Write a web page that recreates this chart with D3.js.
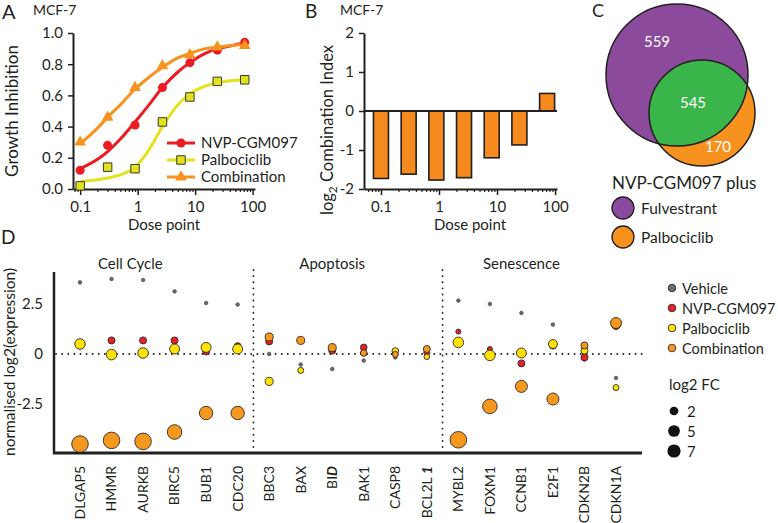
<!DOCTYPE html>
<html><head><meta charset="utf-8">
<script src="https://cdn.jsdelivr.net/npm/d3@7"></script>
<style>
body{margin:0;background:#fff}
svg{display:block}
text{font-family:Lato,"Open Sans",sans-serif;fill:#231f20}
</style>
</head><body>
<svg id="c" width="778" height="523"></svg>
<script>
// ---------------- DATA ----------------
const doses = [0.1, 0.3, 0.9, 2.7, 8.1, 24.3, 72.9];
const nvpGI   = [0.12, 0.28, 0.41, 0.65, 0.81, 0.89, 0.94];
const palboGI = [0.02, 0.14, 0.13, 0.43, 0.59, 0.69, 0.70];
const comboGI = [0.30, 0.46, 0.65, 0.79, 0.86, 0.91, 0.92];
const fitDoses = [0.1, 0.2, 0.3, 0.5, 0.9, 1.5, 2.7, 5, 8.1, 15, 24.3, 45, 72.9];
const nvpFit   = [0.13, 0.19, 0.24, 0.32, 0.43, 0.53, 0.65, 0.75, 0.81, 0.87, 0.90, 0.92, 0.94];
const palboFit = [0.05, 0.06, 0.07, 0.09, 0.14, 0.24, 0.40, 0.54, 0.61, 0.66, 0.68, 0.695, 0.70];
const comboFit = [0.29, 0.39, 0.46, 0.54, 0.64, 0.71, 0.78, 0.84, 0.87, 0.90, 0.91, 0.92, 0.93];
const giTicks = [0, 0.2, 0.4, 0.6, 0.8, 1.0];
const doseTicks = [0.1, 1, 10, 100];
const seriesNames = ["NVP-CGM097", "Palbociclib", "Combination"];

const logCI = [-1.73, -1.62, -1.77, -1.71, -1.20, -0.87, 0.45];
const ciTicks = [-2, -1, 0, 1, 2];

const vennSets = ["Fulvestrant", "Palbociclib"];
const vennCounts = [559, 545, 170]; // fulvestrant only, both, palbociclib only

const genes = ["DLGAP5","HMMR","AURKB","BIRC5","BUB1","CDC20",
               "BBC3","BAX","BID","BAK1","CASP8","BCL2L1",
               "MYBL2","FOXM1","CCNB1","E2F1","CDKN2B","CDKN1A"];
const groups = ["Cell Cycle", "Apoptosis", "Senescence"];
const conditions = ["Vehicle", "NVP-CGM097", "Palbociclib", "Combination"];
const vehicleExpr = [3.58, 3.75, 3.70, 3.13, 2.55, 2.47, 0.00, -0.53, -0.75, -0.33, -0.17, 0.10, 2.67, 2.50, 2.05, 1.47, -0.28, -1.20];
const nvpExpr     = [0.50, 0.68, 0.68, 0.68, 0.13, 0.40, 0.63, 0.68, 0.17, 0.33, 0.10, 0.08, 1.12, 0.25, -0.47, 0.42, -0.17, 1.45];
const palboExpr   = [0.50, -0.03, 0.05, 0.25, 0.33, 0.25, -1.37, -0.82, 0.30, 0.05, 0.15, -0.14, 0.58, -0.07, 0.05, 0.50, 0.17, -1.68];
const comboExpr   = [-4.50, -4.32, -4.37, -3.90, -2.95, -2.95, 0.85, 0.68, 0.32, 0.05, -0.02, 0.25, -4.29, -2.62, -1.62, -2.25, 0.43, 1.55];
const vehicleFC = [0,0,0,0,0,0,0,0,0,0,0,0,0,0,0,0,0,0];
const nvpFC     = [0.7, 0.9, 0.9, 0.9, 0.9, 0.7, 0.9, 0.45, 0.9, 0.7, 0.15, 0.45, 0.15, 0.15, 0.9, 0.9, 0.9, 2.2];
const palboFC   = [3.7, 3.7, 3.7, 3.1, 3.1, 3.1, 1.5, 0.45, 0.9, 0.45, 0.7, 0.3, 3.7, 3.7, 3.1, 2.2, 0.9, 0.45];
const comboFC   = [12.8, 12.8, 12.8, 9.2, 7.3, 7.3, 1.5, 1.5, 1.5, 0.7, 0.45, 0.9, 12.8, 9.2, 5.4, 5.4, 0.9, 4.2];
const exprTicks = [-2.5, 0, 2.5];
const fcLegend = [2, 5, 7];

// ---------------- STYLE ----------------
const INK = "#231f20";
const cRed = "#ec1c24", cYel = "#e3e21f", cOra = "#f7921e";
const dCols = ["#6d6e71", "#e8202a", "#ffe200", "#f7981e"];
const svg = d3.select("#c");

function txt(g, x, y, s, size, anchor) {
  return g.append("text").attr("x", x).attr("y", y).attr("font-size", size)
    .attr("text-anchor", anchor || "start").text(s);
}
function styleAxis(sel, w) {
  sel.select(".domain").attr("stroke", INK).attr("stroke-width", w || 2);
  sel.selectAll(".tick line").attr("stroke", INK).attr("stroke-width", 1.5);
  sel.selectAll(".tick text").attr("fill", INK).attr("font-size", 15)
     .attr("font-family", 'Lato,"Open Sans",sans-serif');
}
function logAxis(g, x, yPos) {
  const [lo, hi] = x.domain();
  const minors = [];
  [0.01, 0.1, 1, 10].forEach(dec => { for (let k = 2; k < 10; k++) { const v = +(dec * k).toPrecision(3); if (v >= lo && v <= hi) minors.push(v); } });
  g.append("g").attr("transform", `translate(0,${yPos})`)
    .call(d3.axisBottom(x).tickValues(minors).tickSize(3).tickFormat(""))
    .call(s => { s.select(".domain").remove(); s.selectAll(".tick line").attr("stroke", INK).attr("stroke-width", 1.2); });
  g.append("g").attr("transform", `translate(0,${yPos})`)
    .call(d3.axisBottom(x).tickValues(doseTicks).tickSize(6).tickSizeOuter(0).tickPadding(6).tickFormat(d3.format("~g")))
    .call(s => styleAxis(s));
}

// ---------------- PANEL A ----------------
const gA = svg.append("g");
const xA = d3.scaleLog().domain([0.075, 110]).range([73, 255]);
const yA = d3.scaleLinear().domain([0, 1]).range([189, 33]);
txt(gA, 2, 19, "A", 20);
txt(gA, 33, 15, "MCF-7", 14);
gA.append("g").attr("transform", "translate(73,0)")
  .call(d3.axisLeft(yA).tickValues(giTicks).tickSize(5).tickSizeOuter(0).tickPadding(5).tickFormat(d3.format(".1f")))
  .call(s => styleAxis(s));
logAxis(gA, xA, 189);
txt(gA, 164, 230, "Dose point", 15, "middle");
gA.append("text").attr("transform", "translate(18,111) rotate(-90)").attr("font-size", 17)
  .attr("text-anchor", "middle").text("Growth Inhibition");

const lineA = d3.line().x((d, i) => xA(fitDoses[i])).y(d => yA(d)).curve(d3.curveMonotoneX);
const seriesA = [
  {fit: nvpFit, pts: nvpGI, col: cRed, sym: d3.symbolCircle, size: 64, stroke: "none"},
  {fit: palboFit, pts: palboGI, col: cYel, sym: d3.symbolSquare, size: 72, stroke: "#3a3a2a"},
  {fit: comboFit, pts: comboGI, col: cOra, sym: d3.symbolTriangle, size: 60, stroke: "none"}
];
seriesA.forEach(s => {
  gA.append("path").attr("d", lineA(s.fit)).attr("fill", "none").attr("stroke", s.col).attr("stroke-width", 3);
});
seriesA.forEach(s => {
  gA.selectAll(null).data(s.pts).join("path")
    .attr("transform", (d, i) => `translate(${xA(doses[i])},${yA(d)})`)
    .attr("d", d3.symbol(s.sym, s.size)())
    .attr("fill", s.col).attr("stroke", s.stroke).attr("stroke-width", 1);
});
// legend A
seriesA.forEach((s, i) => {
  const y = 143 + i * 17;
  gA.append("line").attr("x1", 167).attr("x2", 195).attr("y1", y).attr("y2", y).attr("stroke", s.col).attr("stroke-width", 3);
  gA.append("path").attr("transform", `translate(181,${y})`).attr("d", d3.symbol(s.sym, s.size)())
    .attr("fill", s.col).attr("stroke", s.stroke).attr("stroke-width", 1);
  txt(gA, 201, y + 5, seriesNames[i], 15);
});

// ---------------- PANEL B ----------------
const gB = svg.append("g");
const xB = d3.scaleLog().domain([0.051, 108]).range([364, 557]);
const yB = d3.scaleLinear().domain([-2, 2]).range([189, 33]);
txt(gB, 305, 18, "B", 19);
txt(gB, 340, 15, "MCF-7", 14);
gB.selectAll("rect").data(logCI).join("rect")
  .attr("x", (d, i) => xB(doses[i]) - 7.5).attr("width", 15)
  .attr("y", d => yB(Math.max(0, d))).attr("height", d => Math.abs(yB(d) - yB(0)))
  .attr("fill", "#f58a1f").attr("stroke", INK).attr("stroke-width", 1.6);
gB.append("line").attr("x1", 364).attr("x2", 557).attr("y1", yB(0)).attr("y2", yB(0)).attr("stroke", INK).attr("stroke-width", 2);
gB.append("g").attr("transform", "translate(364,0)")
  .call(d3.axisLeft(yB).tickValues(ciTicks).tickSize(5).tickSizeOuter(0).tickPadding(5).tickFormat(d => String(d)))
  .call(s => styleAxis(s));
logAxis(gB, xB, 189);
txt(gB, 470, 230, "Dose point", 15, "middle");
const tB = gB.append("text").attr("transform", "translate(333,130) rotate(-90)").attr("font-size", 16.5).attr("text-anchor", "middle");
tB.append("tspan").text("log");
tB.append("tspan").attr("font-size", 12).attr("dy", 4).text("2");
tB.append("tspan").attr("dy", -4).text(" Combination Index");

// ---------------- PANEL C ----------------
const gC = svg.append("g");
txt(gC, 592, 17, "C", 18);
const cF = {x: 677, y: 75, r: 71}, cP = {x: 702, y: 113, r: 53};
const defs = svg.append("defs");
defs.append("clipPath").attr("id", "clipF").append("circle").attr("cx", cF.x).attr("cy", cF.y).attr("r", cF.r);
gC.append("circle").attr("cx", cF.x).attr("cy", cF.y).attr("r", cF.r).attr("fill", "#8b4a9c");
gC.append("circle").attr("cx", cP.x).attr("cy", cP.y).attr("r", cP.r).attr("fill", "#f7921e");
gC.append("circle").attr("cx", cP.x).attr("cy", cP.y).attr("r", cP.r).attr("fill", "#39b54a").attr("clip-path", "url(#clipF)");
[cF, cP].forEach(c => gC.append("circle").attr("cx", c.x).attr("cy", c.y).attr("r", c.r).attr("fill", "none").attr("stroke", INK).attr("stroke-width", 1.5));
const vennPos = [[657, 47], [693, 108], [718, 152]];
vennCounts.forEach((v, i) => txt(gC, vennPos[i][0], vennPos[i][1], String(v), 15, "middle").style("fill", "#fff"));
txt(gC, 612, 189, "NVP-CGM097 plus", 17);
const vennCols = ["#8b4a9c", "#f7921e"];
vennSets.forEach((s, i) => {
  const y = 208 + i * 29;
  gC.append("circle").attr("cx", 623).attr("cy", y).attr("r", 11).attr("fill", vennCols[i]).attr("stroke", INK).attr("stroke-width", 1.3);
  txt(gC, 641, y + 6, s, 15.5);
});

// ---------------- PANEL D ----------------
const gD = svg.append("g");
txt(gD, 1, 244, "D", 19);
const xD = d3.scalePoint().domain(genes).range([80, 616]);
const yD = d3.scaleLinear().domain([-4.95, 4.1]).range([453, 272]);
const rD = d3.scaleSqrt().domain([0, 7]).range([1.8, 6.6]);
const step = xD.step();
// dotted lines
const dot = {stroke: INK, "stroke-width": 1.8, "stroke-dasharray": "0.1,6", "stroke-linecap": "round"};
function dotted(x1, y1, x2, y2) {
  const l = gD.append("line").attr("x1", x1).attr("y1", y1).attr("x2", x2).attr("y2", y2);
  Object.entries(dot).forEach(([k, v]) => l.attr(k, v));
}
dotted(56, yD(0), 642, yD(0));
[5, 11].forEach(i => dotted(xD(genes[i]) + step / 2, 270, xD(genes[i]) + step / 2, 452));
// axes
gD.append("g").attr("transform", "translate(54,0)")
  .call(d3.axisLeft(yD).tickValues(exprTicks).tickSize(0).tickPadding(11).tickFormat(d => String(d)))
  .call(s => { s.select(".domain").remove(); s.selectAll(".tick text").attr("font-size", 15).attr("fill", INK); });
gD.append("line").attr("x1", 54).attr("x2", 54).attr("y1", 272).attr("y2", 454).attr("stroke", INK).attr("stroke-width", 2.5);
gD.append("line").attr("x1", 53).attr("x2", 642).attr("y1", 453).attr("y2", 453).attr("stroke", INK).attr("stroke-width", 3);
gD.append("text").attr("transform", "translate(15,362) rotate(-90)").attr("font-size", 15.5).attr("text-anchor", "middle").text("normalised log2(expression)");
// group titles
const titleX = [(xD(genes[1]) + xD(genes[2])) / 2 + 3, xD(genes[8]), xD(genes[14])];
groups.forEach((g, i) => txt(gD, titleX[i], 269, g, 15, "middle"));
// gene labels
genes.forEach(g => {
  const t = gD.append("text").attr("transform", `translate(${xD(g)},466) rotate(-90)`)
    .attr("font-size", 14).attr("text-anchor", "end").attr("dy", "0.35em");
  if (g === "BID") { t.append("tspan").text("BI"); t.append("tspan").attr("font-weight", "bold").attr("font-style", "italic").text("D"); }
  else if (g === "BCL2L1") { t.append("tspan").text("BCL2L "); t.append("tspan").attr("font-weight", "bold").attr("font-style", "italic").text("1"); }
  else t.text(g);
});
// points
const exprSets = [vehicleExpr, nvpExpr, palboExpr, comboExpr];
const fcSets = [vehicleFC, nvpFC, palboFC, comboFC];
exprSets.forEach((arr, k) => {
  gD.append("g").selectAll("circle").data(arr).join("circle")
    .attr("cx", (d, i) => xD(genes[i])).attr("cy", d => yD(d))
    .attr("r", (d, i) => rD(fcSets[k][i]))
    .attr("fill", dCols[k]).attr("stroke", "#2b2b2b").attr("stroke-width", k === 0 ? 0.6 : 0.9);
});
// legend D
conditions.forEach((c, i) => {
  const y = 288 + i * 20;
  gD.append("circle").attr("cx", 672).attr("cy", y).attr("r", 3.8).attr("fill", dCols[i]).attr("stroke", "#2b2b2b").attr("stroke-width", 0.9);
  txt(gD, 682, y + 5.5, c, 14.5);
});
txt(gD, 669, 390, "log2 FC", 15);
fcLegend.forEach((v, i) => {
  const y = 411 + i * 20;
  gD.append("circle").attr("cx", 674).attr("cy", y).attr("r", rD(v)).attr("fill", "#111");
  txt(gD, 687, y + 5.5, String(v), 15);
});
</script>
</body></html>
